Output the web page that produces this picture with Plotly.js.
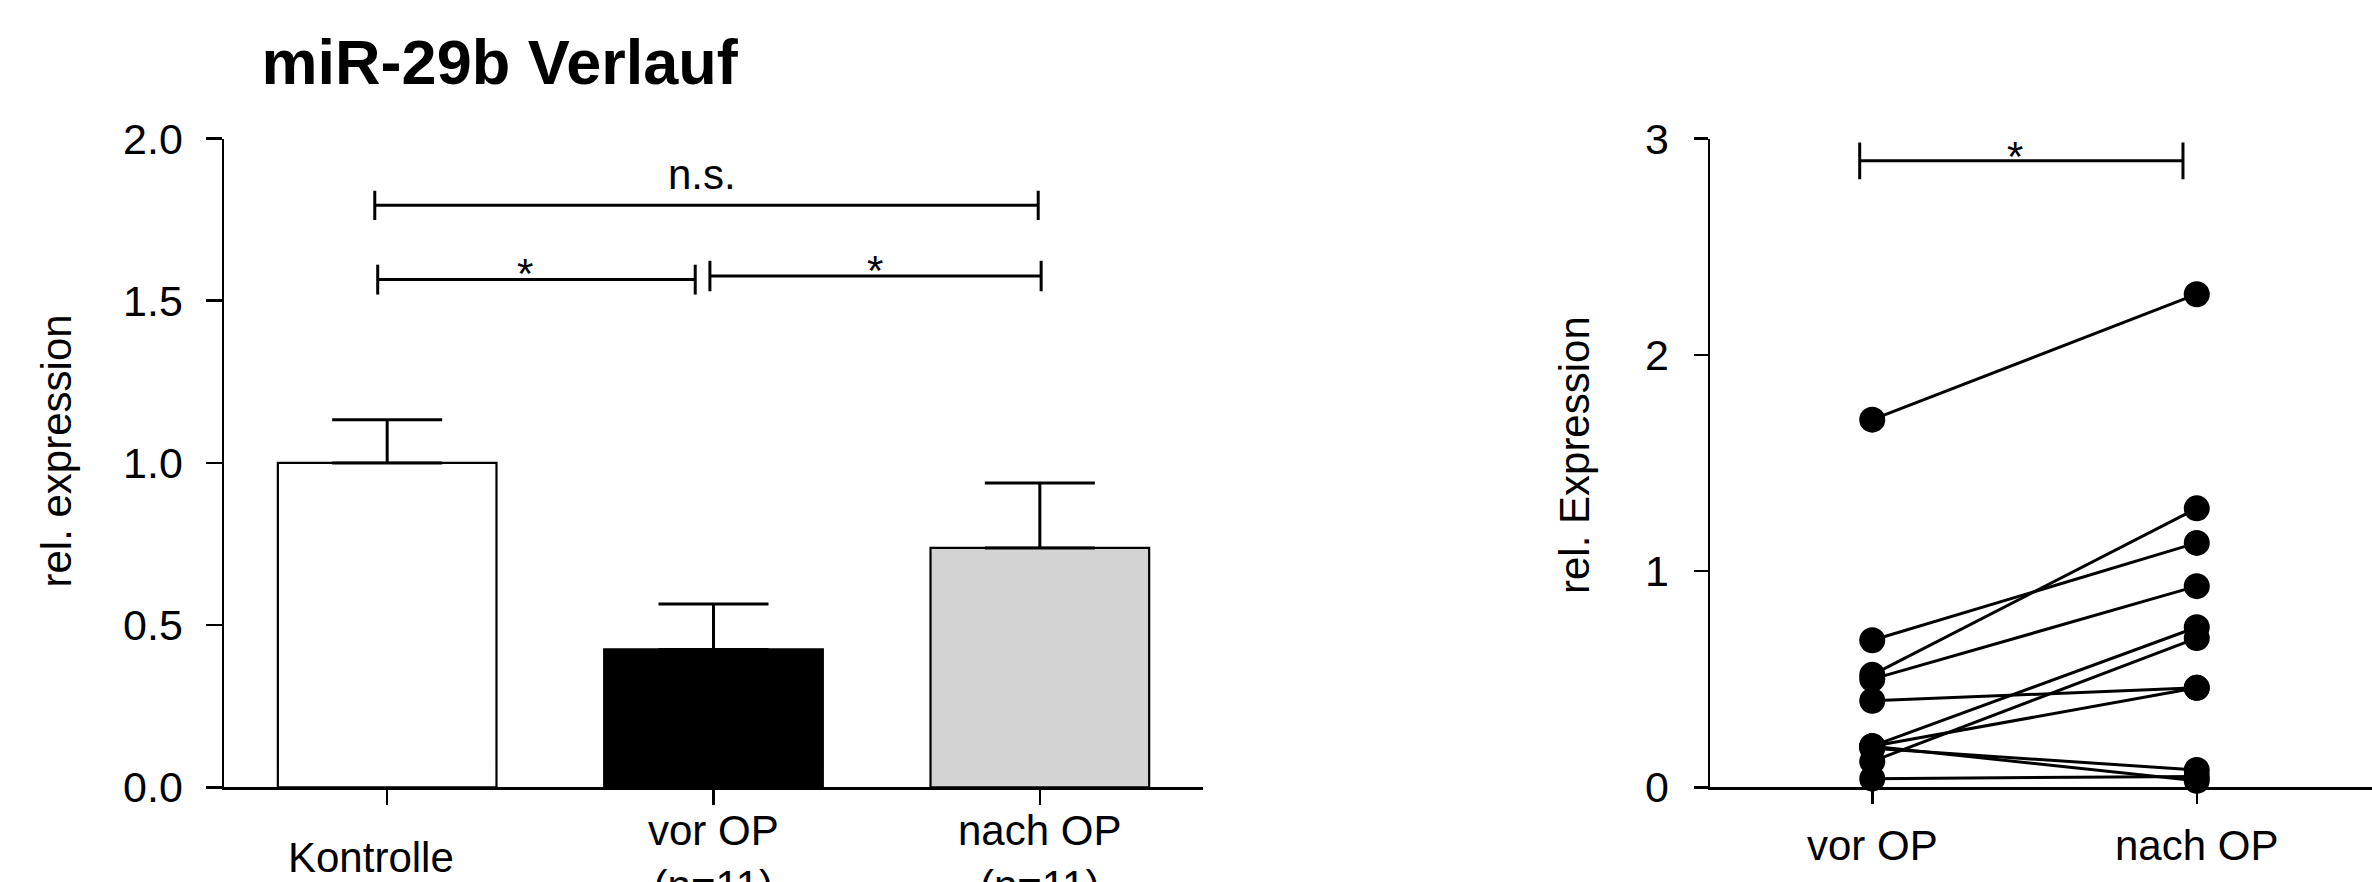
<!DOCTYPE html>
<html>
<head>
<meta charset="utf-8">
<script src="https://cdn.plot.ly/plotly-3.0.1.min.js"></script>
<style>html,body{margin:0;padding:0;background:#fff}</style>
</head>
<body>
<div id="chart" style="width:2372px;height:882px"></div>
<script>
// ---------- data ----------
const chartTitle = 'miR-29b Verlauf';

// left panel: group means with SEM
const barCategories = ['Kontrolle', 'vor OP<br>(n=11)', 'nach OP<br>(n=11)'];
const barMeans  = [1.00, 0.425, 0.738];
const barErrors = [0.133, 0.140, 0.200];
const barColors = ['#ffffff', '#000000', '#d3d3d3'];
const leftTickVals = [0, 0.5, 1.0, 1.5, 2.0];
const leftYTitle = 'rel. expression';

// right panel: paired values per patient
const pairedLabels = ['vor OP', 'nach OP'];
const vorOP  = [1.70, 0.68, 0.52, 0.50, 0.40, 0.19, 0.12, 0.19, 0.18, 0.19, 0.04];
const nachOP = [2.28, 1.13, 1.29, 0.93, 0.46, 0.74, 0.69, 0.46, 0.08, 0.03, 0.05];
const rightTickVals = [0, 1, 2, 3];
const rightYTitle = 'rel. Expression';

// significance labels
const sigLabels = ['n.s.', '*', '*', '*'];

// ---------- layout helpers ----------
const W = 2372, H = 882;
const FONT = 'Liberation Sans, Arial, Helvetica, sans-serif';
const yDom = [(H - 787.3) / H, (H - 138.5) / H];

// bracket geometry (annotation styling)
const brackets = [
  {xref: 'x',  yref: 'y',  x0: -0.038, x1: 1.995, y: 1.794, h: 0.045, tx: 0.965, ty: 1.890, label: sigLabels[0]},
  {xref: 'x',  yref: 'y',  x0: -0.029, x1: 0.944, y: 1.565, h: 0.046, tx: 0.4235, ty: 1.584, label: sigLabels[1]},
  {xref: 'x',  yref: 'y',  x0: 0.989,  x1: 2.004, y: 1.576, h: 0.047, tx: 1.494, ty: 1.592, label: sigLabels[2]},
  {xref: 'x2', yref: 'y2', x0: -0.0387, x1: 0.9575, y: 2.897, h: 0.085, tx: 0.4387, ty: 2.915, label: sigLabels[3]}
];

const shapes = [];
brackets.forEach(b => {
  const ln = {color: '#000', width: 3};
  shapes.push({type: 'line', xref: b.xref, yref: b.yref, x0: b.x0, x1: b.x1, y0: b.y, y1: b.y, line: ln});
  shapes.push({type: 'line', xref: b.xref, yref: b.yref, x0: b.x0, x1: b.x0, y0: b.y - b.h, y1: b.y + b.h, line: ln});
  shapes.push({type: 'line', xref: b.xref, yref: b.yref, x0: b.x1, x1: b.x1, y0: b.y - b.h, y1: b.y + b.h, line: ln});
});

// ---------- traces ----------
const traces = [];
traces.push({
  type: 'bar',
  x: barCategories.map((_, i) => i),
  y: barMeans,
  width: 0.67,
  marker: {color: barColors, line: {color: '#000', width: 2.2}},
  error_y: {
    type: 'data', symmetric: false,
    array: barErrors, arrayminus: barErrors.map(() => 0),
    color: '#000', thickness: 3, width: 55
  },
  xaxis: 'x', yaxis: 'y',
  hoverinfo: 'skip', showlegend: false
});

vorOP.forEach((v, i) => {
  traces.push({
    type: 'scatter', mode: 'lines+markers',
    x: [0, 1], y: [v, nachOP[i]],
    line: {color: '#000', width: 3},
    marker: {color: '#000', size: 26},
    cliponaxis: false,
    xaxis: 'x2', yaxis: 'y2',
    hoverinfo: 'skip', showlegend: false
  });
});

// ---------- annotations ----------
const annotations = [];
barCategories.forEach((c, i) => {
  annotations.push({
    text: c, x: i, xref: 'x', y: (H - 857.8) / H, yref: 'paper',
    xanchor: 'center', yanchor: 'middle', showarrow: false,
    xshift: i === 0 ? -16 : 0,
    font: {family: FONT, size: 42, color: '#000'}
  });
});
pairedLabels.forEach((c, i) => {
  annotations.push({
    text: c, x: i, xref: 'x2', y: (H - 845) / H, yref: 'paper',
    xanchor: 'center', yanchor: 'middle', showarrow: false,
    font: {family: FONT, size: 42, color: '#000'}
  });
});
annotations.push({
  text: leftYTitle, x: 56 / W, xref: 'paper', y: (H - 451.5) / H, yref: 'paper',
  xanchor: 'center', yanchor: 'middle', textangle: -90, showarrow: false,
  font: {family: FONT, size: 42, color: '#000'}
});
annotations.push({
  text: rightYTitle, x: 1575 / W, xref: 'paper', y: (H - 455) / H, yref: 'paper',
  xanchor: 'center', yanchor: 'middle', textangle: -90, showarrow: false,
  font: {family: FONT, size: 42, color: '#000'}
});
brackets.forEach(b => {
  annotations.push({
    text: b.label, x: b.tx, xref: b.xref, y: b.ty, yref: b.yref,
    xanchor: 'center', yanchor: 'middle', showarrow: false,
    font: {family: FONT, size: 42, color: '#000'}
  });
});

// ---------- axes ----------
const axCommon = {
  showline: true, linecolor: '#000', linewidth: 2.5,
  ticks: 'outside', tickcolor: '#000', tickwidth: 2.5,
  showgrid: false, zeroline: false, fixedrange: true,
  tickfont: {family: FONT, size: 43, color: '#000'}
};

const layout = {
  width: W, height: H,
  margin: {l: 0, r: 0, t: 0, b: 0},
  paper_bgcolor: '#fff', plot_bgcolor: '#fff',
  showlegend: false,
  font: {family: FONT, size: 42, color: '#000'},
  title: {
    text: '<b>' + chartTitle + '</b>',
    xref: 'container', yref: 'container',
    x: 261.6 / W, xanchor: 'left',
    y: 1 - 62 / H, yanchor: 'middle',
    font: {family: FONT, size: 63, color: '#000'}
  },
  xaxis: Object.assign({}, axCommon, {
    domain: [224 / W, 1203 / W], range: [-0.5, 2.5], anchor: 'y',
    tickvals: barCategories.map((_, i) => i), showticklabels: false, ticklen: 15
  }),
  yaxis: Object.assign({}, axCommon, {
    domain: yDom, range: [0, 2], anchor: 'x',
    tickvals: leftTickVals, ticktext: leftTickVals.map(v => v.toFixed(1)),
    ticklen: 16, ticklabelstandoff: 14
  }),
  xaxis2: Object.assign({}, axCommon, {
    domain: [1710 / W, 1], range: [-0.5, 1.54], anchor: 'y2',
    tickvals: pairedLabels.map((_, i) => i), showticklabels: false, ticklen: 14
  }),
  yaxis2: Object.assign({}, axCommon, {
    domain: yDom, range: [0, 3], anchor: 'x2',
    tickvals: rightTickVals, ticktext: rightTickVals.map(v => String(v)),
    ticklen: 14, ticklabelstandoff: 16
  }),
  shapes: shapes,
  annotations: annotations
};

Plotly.newPlot('chart', traces, layout, {staticPlot: true, displayModeBar: false});
</script>
</body>
</html>
